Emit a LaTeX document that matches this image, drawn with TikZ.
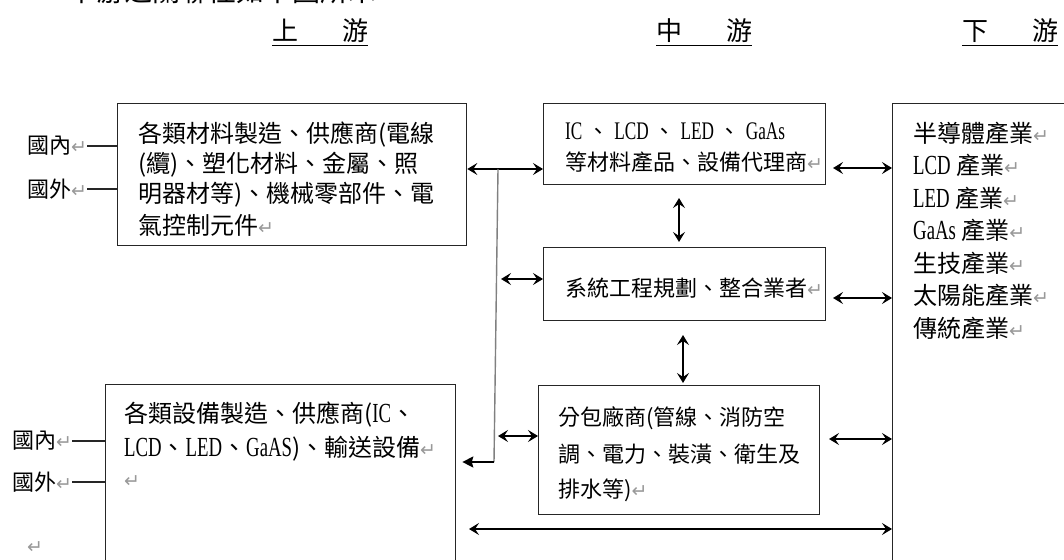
\documentclass[tikz,border=0pt]{standalone}
\usepackage{fontspec}
\setmainfont{Noto Sans CJK TC}
\newfontfamily\latf[Scale=1.15,FakeStretch=0.68]{Liberation Serif}
\newfontfamily\djv{DejaVu Sans}
\usetikzlibrary{arrows.meta}
\newcommand\pmk{{\djv\fontsize{19}{19}\selectfont\textcolor{black!40}{↵}}}
\newcommand\Lt[1]{{\latf #1}}
\tikzset{
  tipA/.tip={Stealth[length=10pt,width=12pt,inset=4pt]},
  tipS/.tip={Stealth[length=11pt,width=11pt,inset=1.5pt]},
}
\begin{document}
\begin{tikzpicture}[x=1pt,y=-1pt,
  box/.style={draw=black!85,line width=1.3pt,inner sep=0pt,anchor=north west},
  t24/.style={inner sep=0pt,anchor=west,font=\fontsize{24}{24}\selectfont},
  t22/.style={inner sep=0pt,anchor=west,font=\fontsize{22}{22}\selectfont},
  hd/.style={inner sep=0pt,anchor=base west,font=\fontsize{26}{26}\selectfont},
  dbl/.style={tipA-tipA,line width=1.4pt,draw=black},
  conn/.style={line width=1.3pt,draw=black!85},
  ]
\useasboundingbox (0,0) rectangle (1064,559);
\clip (0,0) rectangle (1064,559);

% partial intro line (cut at top)
\node[inner sep=0pt,anchor=base west,font=\fontsize{28}{28}\selectfont] (intro) at (68,1.5) {下游之關聯性如下圖所示。};

% headers
\node[hd] (h1) at (272,41) {上\hspace{44pt}游};
\node[hd] (h2) at (656,41) {中\hspace{44pt}游};
\node[hd] (h3) at (962,41) {下\hspace{44pt}游};
\foreach \h in {h1,h2,h3}
  \draw[line width=1.8pt] ([yshift=-4.5pt]\h.base west) -- ([yshift=-4.5pt]\h.base east);

% boxes
\node[box,minimum width=349pt,minimum height=142pt] (A) at (117,103) {};
\node[box,minimum width=282pt,minimum height=81pt]  (B) at (543,103) {};
\node[box,minimum width=282pt,minimum height=73pt]  (C) at (543,247) {};
\node[box,minimum width=350pt,minimum height=216pt] (D) at (105,384) {};
\node[box,minimum width=281pt,minimum height=129pt] (E) at (538,385) {};
\node[box,minimum width=220pt,minimum height=500pt] (F) at (892,103) {};

% box A text
\node[t24] (a1) at (138,135) {各類材料製造、供應商(電線};
\node[t24] (a2) at (138,165) {(纜)、塑化材料、金屬、照};
\node[t24] (a3) at (138,195) {明器材等)、機械零部件、電};
\node[t24] (a4) at (138,225) {氣控制元件\pmk};

% box B text
\node[t22] (b1) at (565,131) {\Lt{IC} 、 \Lt{LCD} 、 \Lt{LED} 、 \Lt{GaAs}};
\node[t22] (b2) at (565,162) {等材料產品、設備代理商\pmk};

% box C text
\node[t22] (c1) at (565,288) {系統工程規劃、整合業者\pmk};

% box D text
\node[t24] (d1) at (124,415) {各類設備製造、供應商(\Lt{IC}、};
\node[t24] (d2) at (124,449) {\Lt{LCD}、\Lt{LED}、\Lt{GaAS})、輸送設備\pmk};
\node[t24] (d3) at (124,482) {\pmk};

% box E text
\node[t22] (e1) at (558,418) {分包廠商(管線、消防空};
\node[t22] (e2) at (558,454) {調、電力、裝潢、衛生及};
\node[t22] (e3) at (558,490) {排水等)\pmk};

% box F text
\foreach \s [count=\i] in {{半導體產業\pmk},{\Lt{LCD} 產業\pmk},{\Lt{LED} 產業\pmk},{\Lt{GaAs} 產業\pmk},{生技產業\pmk},{太陽能產業\pmk},{傳統產業\pmk}}
  \node[t24] (f\i) at (913,{133+32.5*(\i-1)}) {\s};

% domestic / foreign labels
\node[t22] (la1) at (27,146) {國內\pmk};
\node[t22] (la2) at (27,189) {國外\pmk};
\node[t22] (ld1) at (12,441) {國內\pmk};
\node[t22] (ld2) at (12,482) {國外\pmk};
\node[t22] (lone) at (27,548) {\pmk};
\draw[conn] (la1.east) -- (la1.east -| A.west);
\draw[conn] (la2.east) -- (la2.east -| A.west);
\draw[conn] (ld1.east) -- (ld1.east -| D.west);
\draw[conn] (ld2.east) -- (ld2.east -| D.west);

% connectors
\coordinate (ab) at (498,169);
\coordinate (jd) at (494,462);
\draw[dbl] (ab -| A.east) -- (ab -| B.west);
\draw[line width=1.4pt,black!50] (ab) -- (jd);
\draw[line width=1.4pt,-tipS,shorten >=6pt] (jd) -- (jd -| D.east);

\coordinate (bf) at (833,168);
\draw[dbl] (bf) -- (bf -| F.west);
\coordinate (bc) at (679,198);
\draw[dbl,shorten >=5pt] (bc) -- (bc |- C.north);
\coordinate (cl) at (501,279);
\draw[dbl] (cl) -- (cl -| C.west);
\coordinate (cf) at (833,298);
\draw[dbl] (cf) -- (cf -| F.west);
\coordinate (ce) at (683,335);
\draw[dbl,shorten >=2pt] (ce) -- (ce |- E.north);
\coordinate (el) at (498,436);
\draw[dbl] (el) -- (el -| E.west);
\coordinate (ef) at (829,439);
\draw[dbl] (ef) -- (ef -| F.west);
\coordinate (bot) at (469,529);
\draw[dbl] (bot) -- (bot -| F.west);
\end{tikzpicture}
\end{document}
